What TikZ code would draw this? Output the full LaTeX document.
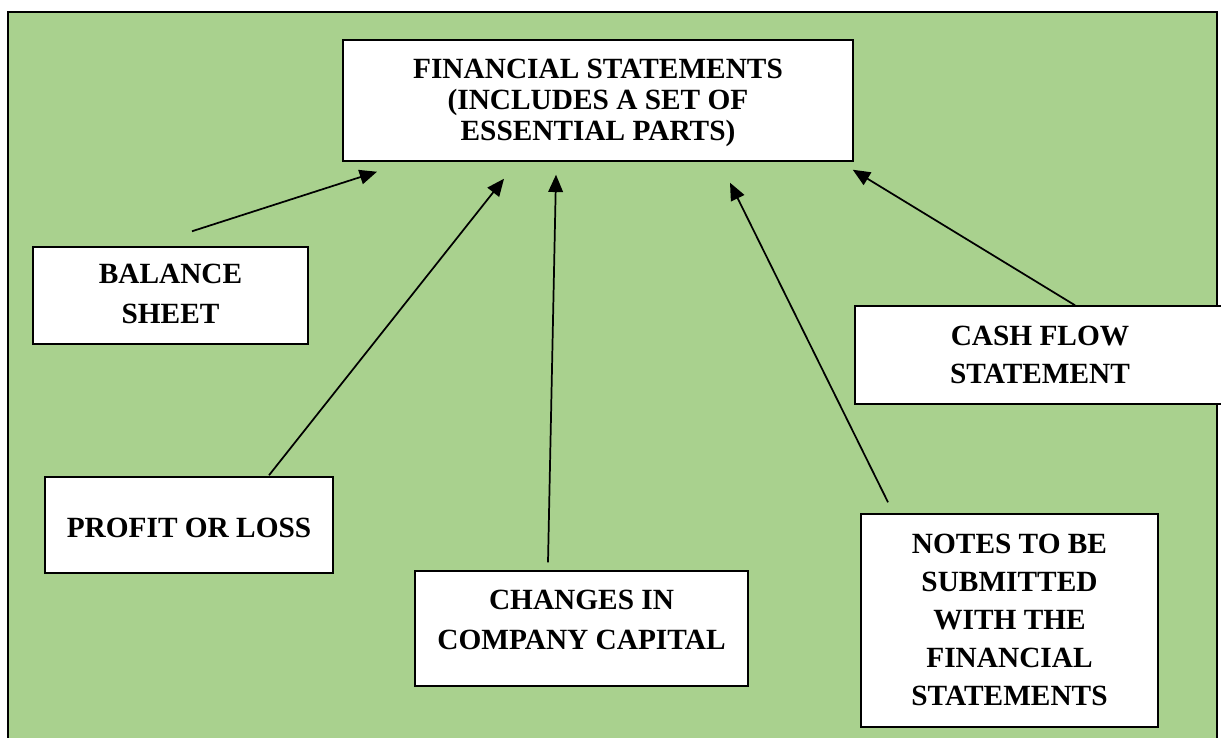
\documentclass[tikz,border=0pt]{standalone}
\usepackage{fontspec}
\setmainfont{Liberation Serif}
\usetikzlibrary{arrows.meta,calc}
\definecolor{bggreen}{HTML}{A9D18E}
\newcommand\myfs[1]{\fontsize{22}{#1}\selectfont\bfseries}
\newcommand\hstrut[1]{\rule{0pt}{#1pt}}
\newcommand\dstrut[1]{\rule[-#1pt]{0pt}{#1pt}}
\tikzset{
  box/.style={draw=black, line width=1.1pt, fill=white, align=center, inner sep=0pt},
  arr/.style={line width=1.3pt, -{Triangle[length=13pt,width=11pt]}},
}
\begin{document}
\begin{tikzpicture}[x=0.75pt,y=-0.75pt]
\useasboundingbox (0,0) rectangle (1221,738);
\clip (0,0) rectangle (1221,738);
\fill[white] (0,0) rectangle (1221,738);
\draw[line width=1.9pt, fill=bggreen] (8,12) rectangle (1217,760);

\node[box, font=\myfs{23pt}, minimum width=382.5pt, minimum height=90.75pt] (title) at (598,100.5)
  {\hstrut{18.3}FINANCIAL STATEMENTS\\(INCLUDES A SET OF\\ESSENTIAL PARTS)\dstrut{5}};
\node[box, font=\myfs{29.5pt}, minimum width=206.25pt, minimum height=72.75pt] (bs) at (170.5,295.5)
  {\hstrut{17.2}BALANCE\\SHEET\dstrut{5}};
\node[box, font=\myfs{29pt}, minimum width=216pt, minimum height=72pt] (pl) at (189,525)
  {\hstrut{23.45}PROFIT OR LOSS\dstrut{5}};
\node[box, font=\myfs{30pt}, minimum width=249.75pt, minimum height=86.25pt] (ch) at (581.5,628.5)
  {\hstrut{16}CHANGES IN\\COMPANY CAPITAL\dstrut{14.2}};
\node[box, font=\myfs{28.6pt}, minimum width=222.75pt, minimum height=159.75pt] (notes) at (1009.5,620.5)
  {\hstrut{18.7}NOTES TO BE\\SUBMITTED\\WITH THE\\FINANCIAL\\STATEMENTS\dstrut{5}};
\node[box, font=\myfs{28.8pt}, minimum width=277.5pt, minimum height=73.5pt] (cf) at (1040,355)
  {\hstrut{19.25}CASH FLOW\\STATEMENT\dstrut{5}};

\draw[arr] ($(bs.north)+(21.5,-15)$) -- ($(title.south)+(-221,10)$);
\draw[arr] ($(pl.north)+(80,-1)$) -- ($(title.south)+(-94,17)$);
\draw[arr] ($(ch.north)+(-33.5,-8)$) -- ($(title.south)+(-42,13)$);
\draw[arr] ($(notes.north)+(-121.5,-11)$) -- ($(title.south)+(132,21)$);
\draw[arr] ($(cf.north)+(35,0)$) -- ($(title.south east)+(-1,8)$);
\end{tikzpicture}
\end{document}
